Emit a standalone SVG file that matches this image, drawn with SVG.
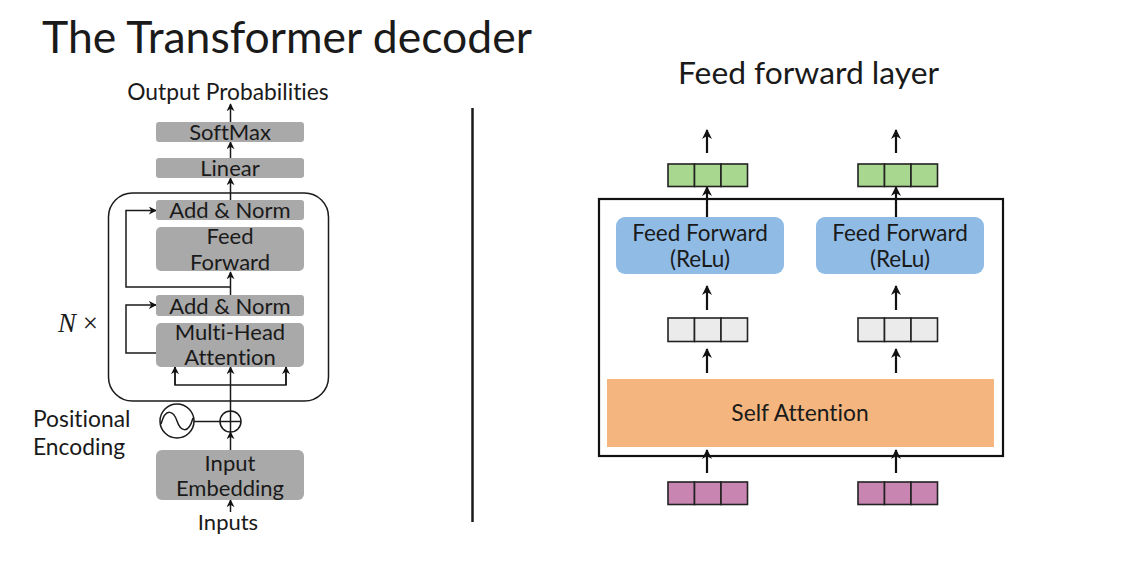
<svg xmlns="http://www.w3.org/2000/svg" width="1134" height="562" viewBox="0 0 1134 562">
<defs>
<marker id="ah" viewBox="0 0 10 10" refX="9" refY="5" markerWidth="8" markerHeight="8" markerUnits="userSpaceOnUse" orient="auto">
<path d="M0,0 L10,5 L0,10 L3,5 Z" fill="#111"/>
</marker>
<marker id="ah2" viewBox="0 0 10 10" refX="9" refY="5" markerWidth="10" markerHeight="10" markerUnits="userSpaceOnUse" orient="auto">
<path d="M0,0 L10,5 L0,10 L3,5 Z" fill="#111"/>
</marker>
<style>
text{font-family:Lato,"Open Sans","Liberation Sans",sans-serif;fill:#1a1a1a;font-variant-ligatures:none}
.gb{fill:#a9a9a9}
.lt{font-size:22px;text-anchor:middle}
.ln{stroke:#1a1a1a;stroke-width:1.5;fill:none}
.la{stroke:#1a1a1a;stroke-width:1.5;fill:none;marker-end:url(#ah)}
.ra{stroke:#111;stroke-width:2.2;fill:none;marker-end:url(#ah2)}
.cell{stroke:#222;stroke-width:1.6}
.ff{fill:#8fbbe4}
.rt{font-size:22.5px;text-anchor:middle}
</style>
</defs>
<rect width="1134" height="562" fill="#fff"/>
<text x="42" y="53" style="font-size:44.5px">The Transformer decoder</text>
<text x="678" y="84" style="font-size:31.8px">Feed forward layer</text>
<line x1="472.5" y1="108" x2="472.5" y2="522" stroke="#1a1a1a" stroke-width="2.5"/>

<g id="connectors">
<line class="la" x1="230.5" y1="512" x2="230.5" y2="500"/>
<line class="la" x1="230.5" y1="450" x2="230.5" y2="432"/>
<line class="ln" x1="194" y1="421.5" x2="220" y2="421.5"/>
<line class="la" x1="230.5" y1="411" x2="230.5" y2="367"/>
<polyline class="ln" points="175,367 175,385 286,385 286,367"/>
<line class="la" x1="175" y1="385" x2="175" y2="367"/>
<line class="la" x1="286" y1="385" x2="286" y2="367"/>
<polyline class="la" points="156,353 126,353 126,305 156,305"/>
<line class="la" x1="230.5" y1="295" x2="230.5" y2="272"/>
<polyline class="la" points="230.5,287 126,287 126,210.5 156,210.5"/>
<line class="la" x1="230.5" y1="200" x2="230.5" y2="178"/>
<line class="la" x1="230.5" y1="158" x2="230.5" y2="142"/>
<line class="la" x1="230.5" y1="122" x2="230.5" y2="104"/>

<line class="ra" x1="707" y1="153" x2="707" y2="130"/>
<line class="ra" x1="896" y1="153" x2="896" y2="130"/>
<line class="ra" x1="707" y1="217" x2="707" y2="187"/>
<line class="ra" x1="896" y1="217" x2="896" y2="187"/>
<line class="ra" x1="707" y1="310" x2="707" y2="286"/>
<line class="ra" x1="896" y1="310" x2="896" y2="286"/>
<line class="ra" x1="707" y1="373" x2="707" y2="349"/>
<line class="ra" x1="896" y1="373" x2="896" y2="349"/>
<line class="ra" x1="707" y1="473" x2="707" y2="450"/>
<line class="ra" x1="896" y1="473" x2="896" y2="450"/>
</g>

<g id="decoder-block">
<rect x="108.5" y="193" width="220" height="208" rx="24" fill="none" stroke="#1a1a1a" stroke-width="1.5"/>
<text x="58" y="332" style="font-family:'Liberation Serif','DejaVu Serif',serif;font-size:27px;font-style:italic">N<tspan style="font-style:normal"> ×</tspan></text>
</g>

<g id="output-probabilities"><text class="lt" x="228" y="100" style="font-size:22.8px">Output Probabilities</text></g>
<g id="softmax"><rect class="gb" x="156" y="122" width="148" height="20" rx="3"/><text class="lt" x="230" y="139.5">SoftMax</text></g>
<g id="linear"><rect class="gb" x="156" y="158" width="148" height="20" rx="3"/><text class="lt" x="230" y="176">Linear</text></g>
<g id="add-norm-1"><rect class="gb" x="156" y="200" width="148" height="20" rx="3"/><text class="lt" x="230" y="218">Add &amp; Norm</text></g>
<g id="feed-forward"><rect class="gb" x="156" y="227" width="148" height="44" rx="5"/><text class="lt" x="230" y="244">Feed</text><text class="lt" x="230" y="270">Forward</text></g>
<g id="add-norm-2"><rect class="gb" x="156" y="295" width="148" height="21" rx="3"/><text class="lt" x="230" y="313.5">Add &amp; Norm</text></g>
<g id="multi-head-attention"><rect class="gb" x="156" y="323" width="148" height="44" rx="5"/><text class="lt" x="230" y="339.5">Multi-Head</text><text class="lt" x="230" y="364.5">Attention</text></g>
<g id="add"><circle cx="230.5" cy="421.5" r="10.5" fill="#fff" stroke="#1a1a1a" stroke-width="1.5"/><path d="M220,421.5 H241 M230.5,411 V432" class="ln"/></g>
<g id="positional-encoding"><circle cx="177" cy="421" r="17" fill="#fff" stroke="#1a1a1a" stroke-width="1.5"/><path class="ln" d="M161,424 C166,406 174,412 177,421 C180,430 188,436 193,418"/>
<text x="33" y="427" style="font-size:22.8px">Positional</text><text x="33" y="455" style="font-size:22.8px">Encoding</text></g>
<g id="input-embedding"><rect class="gb" x="156" y="450" width="148" height="50" rx="6"/><text class="lt" x="230" y="471">Input</text><text class="lt" x="230" y="496">Embedding</text></g>
<g id="inputs"><text class="lt" x="228" y="530">Inputs</text></g>

<g id="ff-layer"><rect x="599" y="199" width="404" height="257" fill="none" stroke="#111" stroke-width="2.2"/></g>
<g id="self-attention"><rect x="607" y="379" width="387" height="68" fill="#f5b57e"/><text class="rt" x="800" y="421" style="font-size:22.8px">Self Attention</text></g>
<g id="ff-left"><rect class="ff" x="616" y="217" width="168" height="57" rx="9"/><text class="rt" x="700" y="241">Feed Forward</text><text class="rt" x="700" y="267">(ReLu)</text></g>
<g id="ff-right"><rect class="ff" x="816" y="217" width="168" height="57" rx="9"/><text class="rt" x="900" y="241">Feed Forward</text><text class="rt" x="900" y="267">(ReLu)</text></g>

<g id="out-left" fill="#a8d890"><rect class="cell" x="668" y="164" width="26.5" height="22.5"/><rect class="cell" x="694.5" y="164" width="26.5" height="22.5"/><rect class="cell" x="721" y="164" width="26.5" height="22.5"/></g>
<g id="out-right" fill="#a8d890"><rect class="cell" x="858" y="164" width="26.5" height="22.5"/><rect class="cell" x="884.5" y="164" width="26.5" height="22.5"/><rect class="cell" x="911" y="164" width="26.5" height="22.5"/></g>
<g id="mid-left" fill="#ebebeb"><rect class="cell" x="668" y="318" width="26.5" height="23.5"/><rect class="cell" x="694.5" y="318" width="26.5" height="23.5"/><rect class="cell" x="721" y="318" width="26.5" height="23.5"/></g>
<g id="mid-right" fill="#ebebeb"><rect class="cell" x="858" y="318" width="26.5" height="23.5"/><rect class="cell" x="884.5" y="318" width="26.5" height="23.5"/><rect class="cell" x="911" y="318" width="26.5" height="23.5"/></g>
<g id="in-left" fill="#c985b2"><rect class="cell" x="668" y="482" width="26.5" height="22.5"/><rect class="cell" x="694.5" y="482" width="26.5" height="22.5"/><rect class="cell" x="721" y="482" width="26.5" height="22.5"/></g>
<g id="in-right" fill="#c985b2"><rect class="cell" x="858" y="482" width="26.5" height="22.5"/><rect class="cell" x="884.5" y="482" width="26.5" height="22.5"/><rect class="cell" x="911" y="482" width="26.5" height="22.5"/></g>
</svg>
